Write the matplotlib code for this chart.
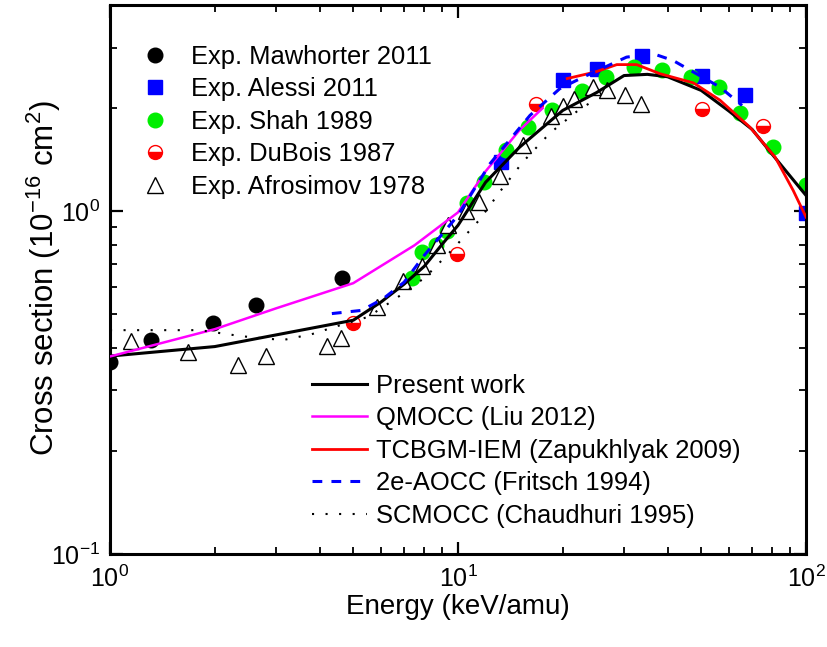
import matplotlib
matplotlib.use('Agg')
import matplotlib.pyplot as plt
from matplotlib.ticker import NullFormatter, LogLocator

plt.rcParams['font.family'] = ['Liberation Sans', 'DejaVu Sans']
plt.rcParams['mathtext.fontset'] = 'custom'
plt.rcParams['mathtext.rm'] = 'Liberation Sans'
plt.rcParams['mathtext.it'] = 'Liberation Sans:italic'
plt.rcParams['mathtext.bf'] = 'Liberation Sans:bold'

# ---------------- data ----------------
maw_x = [1.0, 1.31, 1.98, 2.63, 4.64]
maw_y = [0.363, 0.421, 0.472, 0.532, 0.638]

alessi_x = [13.3, 20.0, 25.1, 33.8, 50.3, 66.8, 100.0]
alessi_y = [1.39, 2.41, 2.61, 2.83, 2.49, 2.19, 0.987]

shah_x = [7.38, 7.88, 8.65, 9.30, 10.6, 11.9, 13.7, 15.9, 18.6, 22.7, 26.7,
          32.1, 38.6, 46.7, 56.4, 64.6, 80.4, 100.0]
shah_y = [0.640, 0.759, 0.796, 0.874, 1.06, 1.22, 1.51, 1.76, 1.97, 2.25, 2.47,
          2.63, 2.58, 2.46, 2.30, 1.93, 1.54, 1.19]

dubois_x = [5.0, 9.92, 16.8, 50.4, 75.4]
dubois_y = [0.472, 0.753, 2.06, 1.99, 1.78]

afro_x = [1.15, 1.68, 2.34, 2.80, 4.20, 4.60, 5.87, 6.96, 7.86, 8.73, 9.36,
          10.56, 11.47, 13.2, 15.38, 18.5, 20.0, 21.6, 24.4, 26.8, 30.2, 33.6]
afro_y = [0.417, 0.389, 0.356, 0.378, 0.405, 0.426, 0.524, 0.625, 0.693, 0.799,
          0.913, 1.0, 1.062, 1.269, 1.565, 1.898, 2.024, 2.121, 2.299, 2.258,
          2.184, 2.053]

pw_x = [1, 2, 5, 6, 7, 8, 9, 10, 12, 15, 20, 25, 30, 35, 40, 50, 60, 70, 80, 100]
pw_y = [0.378, 0.403, 0.481, 0.543, 0.613, 0.691, 0.801, 0.91, 1.215, 1.536,
        1.97, 2.22, 2.49, 2.51, 2.47, 2.253, 1.963, 1.734, 1.466, 1.113]

qm_x = [1, 2, 3, 5, 7.5, 10, 12, 15, 17.5]
qm_y = [0.377, 0.453, 0.521, 0.617, 0.796, 0.993, 1.308, 1.722, 2.0]

tc_x = [20.6, 24.8, 28.6, 32.6, 38.1, 47.5, 56.6, 69.0, 81.5, 91.9, 100]
tc_y = [2.44, 2.55, 2.68, 2.68, 2.52, 2.37, 2.11, 1.76, 1.44, 1.15, 0.962]

ao_x = [4.34, 5.29, 6.10, 7, 8, 9, 10, 12.36, 16.1, 19.6, 22.9, 30.5, 36.4,
        41.5, 56.6, 65.5]
ao_y = [0.503, 0.514, 0.556, 0.621, 0.744, 0.857, 0.973, 1.377, 1.905, 2.279,
        2.464, 2.818, 2.883, 2.755, 2.304, 2.037]

sc_x = [1.0, 1.81, 2.39, 3.14, 3.80, 4.58, 5.52, 6.67, 8.04, 9.69, 11.49,
        13.35, 15.35, 18.38, 22.27, 24.35]
sc_y = [0.450, 0.450, 0.432, 0.421, 0.438, 0.465, 0.492, 0.559, 0.641, 0.778,
        0.941, 1.159, 1.392, 1.692, 1.979, 2.093]

exp_labels = ['Exp. Mawhorter 2011', 'Exp. Alessi 2011', 'Exp. Shah 1989',
              'Exp. DuBois 1987', 'Exp. Afrosimov 1978']
theory_labels = ['Present work', 'QMOCC (Liu 2012)', 'TCBGM-IEM (Zapukhlyak 2009)',
                 '2e-AOCC (Fritsch 1994)', 'SCMOCC (Chaudhuri 1995)']

# ---------------- figure ----------------
W, H = 827, 647
fig = plt.figure(figsize=(W / 100, H / 100), dpi=100)
ax = fig.add_axes([110 / W, 1 - 554 / H, 696 / W, 549 / H])
ax.set_xscale('log')
ax.set_yscale('log')

# markers
h_maw, = ax.plot(maw_x, maw_y, 'o', color='black', ms=10.5, mec='black', zorder=2)
h_ale, = ax.plot(alessi_x, alessi_y, 's', color='#0000ff', ms=9.5, mec='#0000ff', zorder=2)
h_sha, = ax.plot(shah_x, shah_y, 'o', color='#00ee00', ms=10.5, mec='#00ee00', zorder=2)
h_dub, = ax.plot(dubois_x, dubois_y, 'o', ms=10, mfc='#ff0000', mfcalt='white',
                 fillstyle='bottom', mec='#ff0000', mew=1.0, zorder=2)
h_afr, = ax.plot(afro_x, afro_y, '^', ms=12, mfc='white', mec='black', mew=1.0,
                 linestyle='none', zorder=2)

# lines
l_pw, = ax.plot(pw_x, pw_y, '-', color='black', lw=2.2, zorder=3)
l_qm, = ax.plot(qm_x, qm_y, '-', color='#ff00ff', lw=1.8, zorder=3)
l_tc, = ax.plot(tc_x, tc_y, '-', color='#ff0000', lw=2.0, zorder=3)
l_ao, = ax.plot(ao_x, ao_y, color='#0000ff', lw=2.2, dashes=(3.2, 3.0), zorder=3)
l_sc, = ax.plot(sc_x, sc_y, color='black', lw=1.5, dashes=(1, 5.5), zorder=3)

ax.set_xlim(1, 100)
ax.set_ylim(0.1, 4)

for sp in ax.spines.values():
    sp.set_linewidth(2.2)
ax.tick_params(which='both', direction='in', top=True, right=True)
ax.tick_params(which='major', length=9, width=1.6, labelsize=18)
ax.tick_params(axis='x', which='major', pad=8)
ax.tick_params(axis='y', which='major', pad=7)
ax.tick_params(which='minor', length=5, width=1.3)
ax.xaxis.set_minor_locator(LogLocator(base=10, subs=range(2, 10)))
ax.yaxis.set_minor_locator(LogLocator(base=10, subs=range(2, 10)))
ax.xaxis.set_minor_formatter(NullFormatter())
ax.yaxis.set_minor_formatter(NullFormatter())

fig.text(44 / W, 1 - 278 / H, 'Cross section (10$^{-16}$ cm$^{2}$)', rotation=90,
         ha='center', va='center', fontsize=22.5)
fig.text(458 / W, 1 - 607 / H, 'Energy (keV/amu)', ha='center', va='center',
         fontsize=20)

leg1 = ax.legend([h_maw, h_ale, h_sha, h_dub, h_afr], exp_labels,
                 loc='upper left', bbox_to_anchor=(142 / W, 1 - 45 / H),
                 bbox_transform=fig.transFigure, frameon=False, fontsize=18.4,
                 handlelength=1.0, handletextpad=0.9, labelspacing=0.33,
                 borderpad=0, borderaxespad=0)
ax.add_artist(leg1)
leg2 = ax.legend([l_pw, l_qm, l_tc, l_ao, l_sc], theory_labels,
                 loc='upper left', bbox_to_anchor=(312 / W, 1 - 374 / H),
                 bbox_transform=fig.transFigure, frameon=False, fontsize=18.4,
                 handlelength=2.17, handletextpad=0.35, labelspacing=0.33,
                 borderpad=0, borderaxespad=0)

fig.savefig('out.png', dpi=100)
